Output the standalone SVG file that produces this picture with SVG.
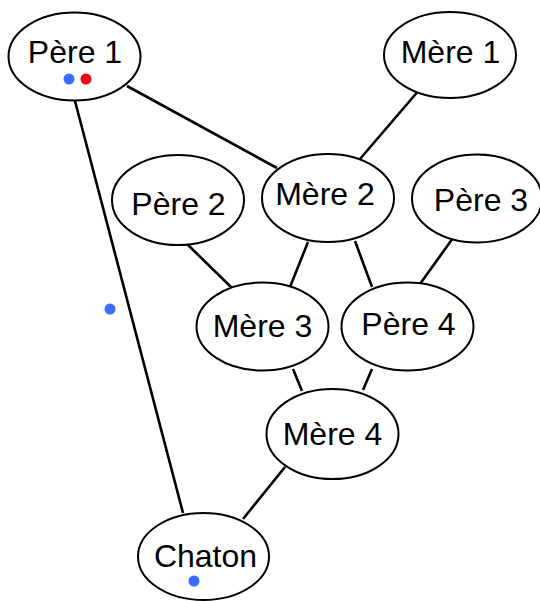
<svg xmlns="http://www.w3.org/2000/svg" width="540" height="601" viewBox="0 0 540 601">
  <style>
    .node ellipse { fill: #ffffff; stroke: #000000; stroke-width: 2; }
    .node text { font-family: "Liberation Sans", Arial, sans-serif; font-size: 32px; fill: #000000; text-anchor: middle; }
    .edges line { stroke: #000000; stroke-width: 2.6; stroke-linecap: butt; }
    .dot-blue { fill: #3d6bff; }
    .dot-red { fill: #f2000f; }
  </style>
  <rect width="540" height="601" fill="#ffffff"/>

  <!-- family links -->
  <g id="edges" class="edges">
    <line x1="127" y1="86" x2="277" y2="168"/>
    <line x1="75" y1="101" x2="183" y2="513"/>
    <line x1="420" y1="89" x2="360" y2="159"/>
    <line x1="187" y1="244" x2="232" y2="288"/>
    <line x1="308" y1="242" x2="290" y2="287"/>
    <line x1="355" y1="241" x2="372" y2="287"/>
    <line x1="453" y1="238" x2="420" y2="284"/>
    <line x1="293" y1="369" x2="302" y2="391"/>
    <line x1="372" y1="369" x2="363" y2="390"/>
    <line x1="285" y1="467" x2="243" y2="519"/>
  </g>

  <g id="pere1" class="node">
    <ellipse cx="74.5" cy="56.5" rx="66" ry="44"/>
    <text x="75" y="63">Père 1</text>
    <circle class="dot-blue" cx="69" cy="79" r="5.5"/>
    <circle class="dot-red" cx="86" cy="79" r="5.5"/>
  </g>

  <g id="mere1" class="node">
    <ellipse cx="450" cy="55" rx="66" ry="43"/>
    <text x="450.5" y="63">Mère 1</text>
  </g>

  <g id="pere2" class="node">
    <ellipse cx="178" cy="200" rx="66" ry="45"/>
    <text x="178.5" y="215">Père 2</text>
  </g>

  <g id="mere2" class="node">
    <ellipse cx="328" cy="198" rx="66" ry="44"/>
    <text x="325" y="205">Mère 2</text>
  </g>

  <g id="pere3" class="node">
    <ellipse cx="477" cy="198.5" rx="65" ry="44"/>
    <text x="481" y="211">Père 3</text>
  </g>

  <g id="mere3" class="node">
    <ellipse cx="262.5" cy="326.5" rx="66" ry="44"/>
    <text x="262.5" y="337">Mère 3</text>
  </g>

  <g id="pere4" class="node">
    <ellipse cx="407.5" cy="326.5" rx="66" ry="44"/>
    <text x="408.5" y="335">Père 4</text>
  </g>

  <g id="mere4" class="node">
    <ellipse cx="332.5" cy="434" rx="66" ry="45"/>
    <text x="332.5" y="445">Mère 4</text>
  </g>

  <g id="chaton" class="node">
    <ellipse cx="203.5" cy="556.5" rx="65.5" ry="43.5"/>
    <text x="205.5" y="567">Chaton</text>
    <circle class="dot-blue" cx="194" cy="581" r="5.5"/>
  </g>

  <!-- marker left beside the long link -->
  <circle id="lone-dot" class="dot-blue" cx="110" cy="309" r="5.5"/>
</svg>
